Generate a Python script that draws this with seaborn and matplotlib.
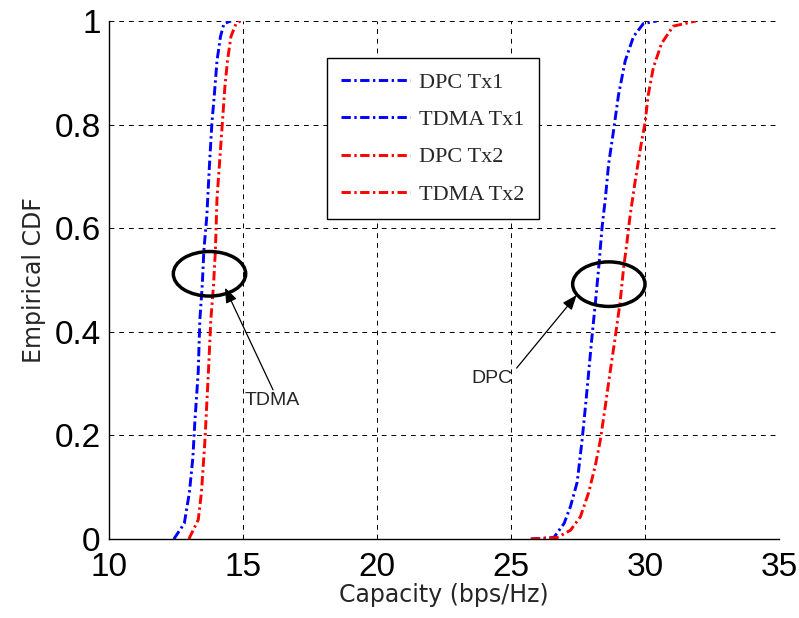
import numpy as np
import pandas as pd
import matplotlib
matplotlib.use("Agg")
import matplotlib.pyplot as plt
from matplotlib.patches import Ellipse
import seaborn as sns

# Empirical CDF curves of the per-transmitter capacity (bps/Hz)
dpc_tx1_x = [25.74, 26.6, 26.98, 27.22, 27.47, 27.65, 27.78, 27.9, 28.02, 28.15,
             28.27, 28.4, 28.52, 28.64, 28.83, 29.01, 29.26, 29.57, 29.94, 30.43]
dpc_tx1_cdf = [0.0, 0.003, 0.03, 0.063, 0.11, 0.19, 0.257, 0.323, 0.39, 0.457,
               0.523, 0.603, 0.657, 0.723, 0.79, 0.857, 0.923, 0.97, 0.995, 1.0]

tdma_tx1_x = [12.42, 12.81, 13.0, 13.13, 13.2, 13.33, 13.39, 13.48, 13.54, 13.65,
              13.75, 13.84, 13.93, 14.03, 14.16, 14.29, 14.55]
tdma_tx1_cdf = [0.0, 0.03, 0.09, 0.157, 0.223, 0.323, 0.423, 0.49, 0.557, 0.623,
                0.723, 0.803, 0.857, 0.923, 0.97, 0.995, 1.0]

dpc_tx2_x = [25.74, 26.73, 27.22, 27.59, 27.9, 28.15, 28.33, 28.52, 28.7, 28.89,
             29.07, 29.2, 29.32, 29.44, 29.63, 29.88, 30.0, 30.12, 30.31, 30.62,
             31.05, 31.9]
dpc_tx2_cdf = [0.0, 0.003, 0.017, 0.043, 0.09, 0.143, 0.19, 0.257, 0.323, 0.39,
               0.457, 0.523, 0.57, 0.623, 0.69, 0.77, 0.803, 0.857, 0.91, 0.957,
               0.99, 1.0]

tdma_tx2_x = [12.98, 13.33, 13.45, 13.58, 13.71, 13.8, 13.9, 13.97, 14.03, 14.14,
              14.23, 14.32, 14.42, 14.55, 14.74, 14.9]
tdma_tx2_cdf = [0.0, 0.037, 0.09, 0.19, 0.323, 0.423, 0.49, 0.557, 0.657, 0.737,
                0.803, 0.87, 0.923, 0.97, 0.995, 1.0]

series_names = ["DPC Tx1", "TDMA Tx1", "DPC Tx2", "TDMA Tx2"]
series_colors = ["#0000ff", "#0000ff", "#ff0000", "#ff0000"]
series_data = [(dpc_tx1_x, dpc_tx1_cdf), (tdma_tx1_x, tdma_tx1_cdf),
               (dpc_tx2_x, dpc_tx2_cdf), (tdma_tx2_x, tdma_tx2_cdf)]

x_ticks = [10, 15, 20, 25, 30, 35]
y_ticks = [0, 0.2, 0.4, 0.6, 0.8, 1.0]
y_tick_labels = ["0", "0.2", "0.4", "0.6", "0.8", "1"]

sns.set_style("white")
plt.rcParams["font.family"] = ["Liberation Sans", "DejaVu Sans"]

fig = plt.figure(figsize=(7.99, 6.18), dpi=100)
ax = fig.add_axes([0.1364, 0.1278, 0.975 - 0.1364, 0.966 - 0.1278])

frames = []
for name, (xs, ys) in zip(series_names, series_data):
    frames.append(pd.DataFrame({"capacity": xs, "cdf": ys, "series": name}))
df = pd.concat(frames, ignore_index=True)

dashdot = (0, (3.2, 1.2, 0.8, 1.2))
for name, color in zip(series_names, series_colors):
    sub = df[df["series"] == name]
    sns.lineplot(data=sub, x="capacity", y="cdf", ax=ax, color=color,
                 linestyle=dashdot, linewidth=2.1, label=name,
                 estimator=None, sort=False)

ax.set_xlim(10, 35)
ax.set_ylim(0, 1)
ax.set_xticks(x_ticks)
ax.set_xticklabels([str(t) for t in x_ticks])
ax.set_yticks(y_ticks)
ax.set_yticklabels(y_tick_labels)
ax.tick_params(axis="both", labelsize=24, direction="in", length=4, width=0.8,
               colors="black")
ax.tick_params(axis="x", pad=9)
ax.tick_params(axis="y", pad=6)

ax.grid(True, color="black", linestyle=(0, (5, 5)), linewidth=0.7)
for side in ["top", "right"]:
    ax.spines[side].set_visible(False)
for side in ["left", "bottom"]:
    ax.spines[side].set_color("black")
    ax.spines[side].set_linewidth(1.0)

ax.set_xlabel("Capacity (bps/Hz)", fontsize=17, family="DejaVu Sans", labelpad=0)
ax.set_ylabel("Empirical CDF", fontsize=17, family="DejaVu Sans", labelpad=6)

# Ellipses grouping the TDMA and DPC curve pairs around the median
for cx, cy in [(13.75, 0.512), (28.65, 0.492)]:
    ax.add_patch(Ellipse((cx, cy), width=2.7, height=0.086, fill=False,
                         edgecolor="black", linewidth=2.5, zorder=5))

arrow_style = dict(arrowstyle="-|>,head_length=0.9,head_width=0.35",
                   color="black", lw=0.9, shrinkA=0, shrinkB=0)
ax.annotate("", xy=(14.33, 0.485), xytext=(16.12, 0.288), arrowprops=arrow_style,
            zorder=6)
ax.annotate("", xy=(27.45, 0.471), xytext=(25.21, 0.33), arrowprops=arrow_style,
            zorder=6)
ax.text(15.07, 0.268, "TDMA", fontsize=14, ha="left", va="center")
ax.text(25.07, 0.309, "DPC", fontsize=14, ha="right", va="center")

leg = ax.legend(loc="upper left", bbox_to_anchor=(0.325, 0.9286), borderaxespad=0,
                prop={"family": "Liberation Serif", "size": 16},
                frameon=True, fancybox=False, framealpha=1, edgecolor="black",
                handlelength=3.1, handletextpad=0.4, labelspacing=0.75,
                borderpad=0.65)
leg.get_frame().set_linewidth(1.0)

fig.savefig("out.png", dpi=100, facecolor="white")
